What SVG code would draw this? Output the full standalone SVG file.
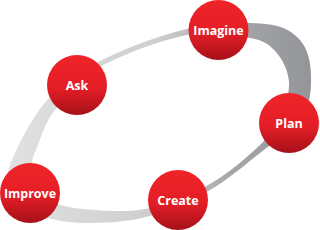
<svg xmlns="http://www.w3.org/2000/svg" width="320" height="230" viewBox="0 0 320 230">
<defs>
<linearGradient id="band" gradientUnits="userSpaceOnUse" x1="0" y1="0" x2="320" y2="0">
<stop offset="0" stop-color="#e2e2e2"/>
<stop offset="0.5" stop-color="#cdcdcd"/>
<stop offset="0.72" stop-color="#a6a7a9"/>
<stop offset="1" stop-color="#919397"/>
</linearGradient>
<linearGradient id="red" x1="0" y1="0" x2="0" y2="1">
<stop offset="0" stop-color="#f02429"/>
<stop offset="0.55" stop-color="#e41e26"/>
<stop offset="1" stop-color="#a6111a"/>
</linearGradient>
<style>
.node circle{fill:url(#red);}
.node text{fill:#ffffff;font-family:"Open Sans","Liberation Sans",sans-serif;font-weight:bold;font-size:12.5px;text-anchor:middle;}
</style>
</defs>
<g id="connectors">
<path fill="url(#band)" fill-rule="evenodd" d="M100,61 C123.3,49.2 159.5,35.2 187,29 C214.5,22.8 246.2,22.2 265,24 C283.8,25.8 292.3,31.5 300,40 C307.7,48.5 310.7,62 311,75 C311.3,88 310.5,105 302,118 C293.5,131 275.3,141 260,153 C244.7,165 228.3,179.5 210,190 C191.7,200.5 169.7,210.5 150,216 C130.3,221.5 109.5,222.8 92,223 C74.5,223.2 58.3,221.7 45,217 C31.7,212.3 17.8,203.7 12,195 C6.2,186.3 4.2,180.8 10,165 C15.8,149.2 32,117.3 47,100 C62,82.7 76.7,72.8 100,61 Z M100,67 C122,54.5 162,39.8 187,35 C212,30.2 235.2,35.2 250,38 C264.8,40.8 269.5,44.7 276,52 C282.5,59.3 288.3,71 289,82 C289.7,93 284.8,107.5 280,118 C275.2,128.5 271.7,134 260,145 C248.3,156 228.3,173.5 210,184 C191.7,194.5 169.2,203.7 150,208 C130.8,212.3 111.7,211.3 95,210 C78.3,208.7 60.3,207.2 50,200 C39.7,192.8 35,176.2 33,167 C31,157.8 34.3,154.5 38,145 C41.7,135.5 44.7,123 55,110 C65.3,97 78,79.5 100,67 Z"/>
</g>
<g id="imagine" class="node"><circle cx="218.5" cy="30" r="30"/><text x="218.5" y="34.5">Imagine</text></g>
<g id="ask" class="node"><circle cx="77" cy="85" r="30"/><text x="77" y="89.5">Ask</text></g>
<g id="plan" class="node"><circle cx="289" cy="123" r="30"/><text x="289" y="127.5">Plan</text></g>
<g id="improve" class="node"><circle cx="30" cy="193" r="30"/><text x="30" y="197.5">Improve</text></g>
<g id="create" class="node"><circle cx="178" cy="200" r="30"/><text x="178" y="204.5">Create</text></g>
</svg>
